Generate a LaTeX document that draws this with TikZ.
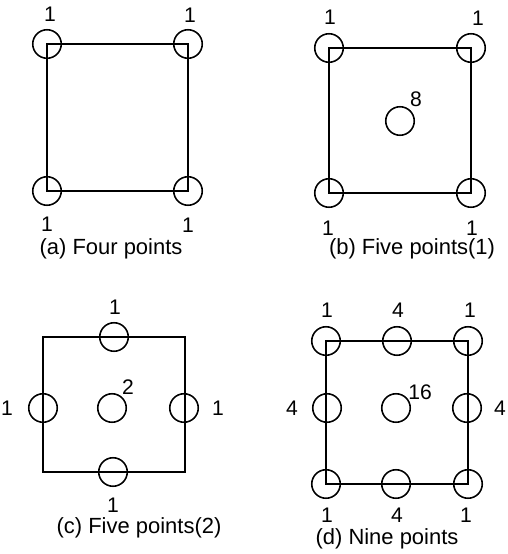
\documentclass[tikz,border=0pt]{standalone}
\usepackage{fontspec}
\setmainfont{Liberation Sans}
\begin{document}
\begin{tikzpicture}[
  x=0.02cm, y=-0.02cm,
  every node/.style={inner sep=0pt},
  pt/.style={circle, draw, line width=0.9pt, minimum size=0.57cm},
  wt/.style={font=\fontsize{12}{14}\selectfont},
  captxt/.style={font=\fontsize{12.5}{15}\selectfont},
  edge/.style={line width=0.9pt, line join=miter},
]
\useasboundingbox (0,0) rectangle (507,554);

%% ---- (a) four points ----
\coordinate (a1) at (47,44);
\coordinate (a2) at (188,44);
\coordinate (a3) at (188,191);
\coordinate (a4) at (47,191);
\draw[edge] (a1) -- (a2) -- (a3) -- (a4) -- cycle;
\node[pt] (pa1) at (a1) {};
\node[pt] (pa2) at (a2) {};
\node[pt] (pa3) at (a3) {};
\node[pt] (pa4) at (a4) {};
\node[wt] (wa1) at (50,14) {1};
\node[wt] (wa2) at (190,15) {1};
\node[wt] (wa3) at (188,225) {1};
\node[wt] (wa4) at (47,224) {1};
\node[captxt] (capa) at (111,249) {(a) Four points};

%% ---- (b) five points (1) ----
\coordinate (b1) at (329,48);
\coordinate (b2) at (471,48);
\coordinate (b3) at (471,193);
\coordinate (b4) at (329,193);
\draw[edge] (b1) -- (b2) -- (b3) -- (b4) -- cycle;
\node[pt] (pb1) at (b1) {};
\node[pt] (pb2) at (b2) {};
\node[pt] (pb3) at (b3) {};
\node[pt] (pb4) at (b4) {};
\node[pt] (pb0) at (400,121) {};
\node[wt] (wb1) at (330,17) {1};
\node[wt] (wb2) at (478,18) {1};
\node[wt] (wb3) at (472,228) {1};
\node[wt] (wb4) at (328,228) {1};
\node[wt] (wb0) at (416,99) {8};
\node[captxt] (capb) at (412,249) {(b) Five points(1)};

%% ---- (c) five points (2) ----
\coordinate (c1) at (43,337);
\coordinate (c2) at (185,337);
\coordinate (c3) at (185,472);
\coordinate (c4) at (43,472);
\draw[edge] (c1) -- (c2) -- (c3) -- (c4) -- cycle;
\node[pt] (pc1) at (114,337) {};
\node[pt] (pc2) at (184,408) {};
\node[pt] (pc3) at (113,472) {};
\node[pt] (pc4) at (43,408) {};
\node[pt] (pc0) at (112,408) {};
\node[wt] (wc1) at (115,307) {1};
\node[wt] (wc2) at (218,408) {1};
\node[wt] (wc3) at (113,505) {1};
\node[wt] (wc4) at (7,408) {1};
\node[wt] (wc0) at (128,387) {2};
\node[captxt] (capc) at (139,528) {(c) Five points(2)};

%% ---- (d) nine points ----
\coordinate (d1) at (326,341);
\coordinate (d2) at (468,341);
\coordinate (d3) at (468,484);
\coordinate (d4) at (326,484);
\draw[edge] (d1) -- (d2) -- (d3) -- (d4) -- cycle;
\node[pt] (pd1) at (d1) {};
\node[pt] (pd2) at (d2) {};
\node[pt] (pd3) at (d3) {};
\node[pt] (pd4) at (d4) {};
\node[pt] (pd5) at (397,341) {};
\node[pt] (pd6) at (467,408) {};
\node[pt] (pd7) at (396,484) {};
\node[pt] (pd8) at (327,408) {};
\node[pt] (pd0) at (396,408) {};
\node[wt] (wd1) at (327,310) {1};
\node[wt] (wd5) at (398,310) {4};
\node[wt] (wd2) at (470,310) {1};
\node[wt] (wd8) at (292,408) {4};
\node[wt] (wd6) at (500,408) {4};
\node[wt] (wd0) at (420,392) {16};
\node[wt] (wd4) at (327,515) {1};
\node[wt] (wd7) at (397,515) {4};
\node[wt] (wd3) at (466,515) {1};
\node[captxt] (capd) at (387,539) {(d) Nine points};
\end{tikzpicture}
\end{document}
